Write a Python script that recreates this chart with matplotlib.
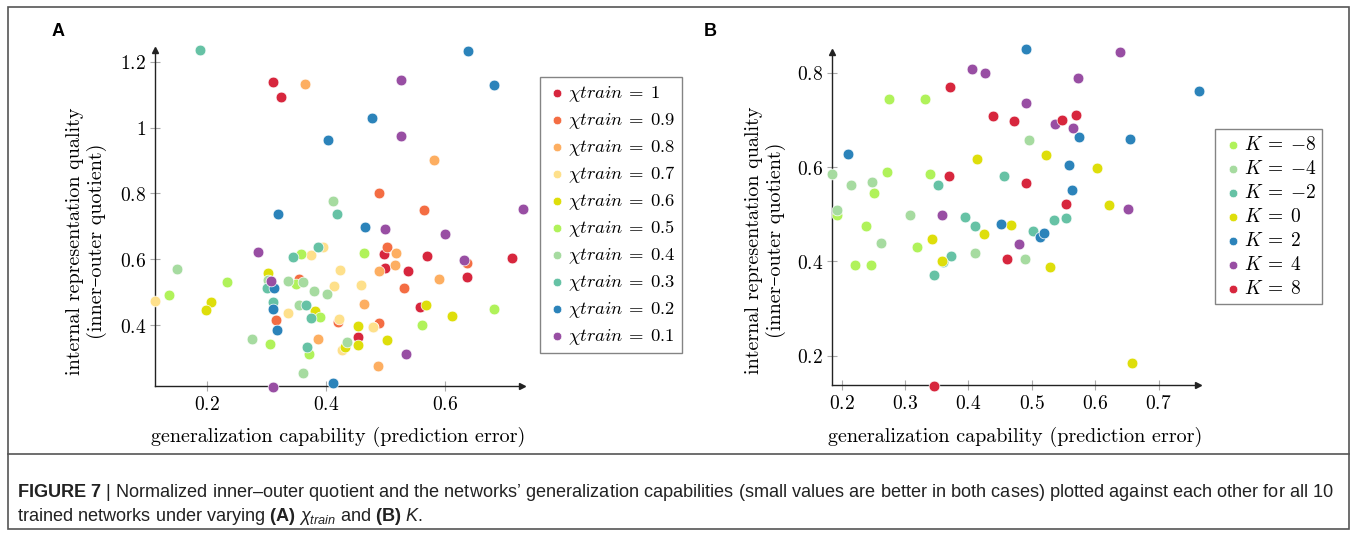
import numpy as np
import matplotlib
matplotlib.use('Agg')
import matplotlib.pyplot as plt
from matplotlib.ticker import FuncFormatter
from matplotlib.patches import Rectangle
from matplotlib.lines import Line2D
from matplotlib import font_manager

plt.rcParams['mathtext.fontset'] = 'cm'
plt.rcParams['axes.unicode_minus'] = True

# ---- panel A: chi_train ----
chi_labels = ['1', '0.9', '0.8', '0.7', '0.6', '0.5', '0.4', '0.3', '0.2', '0.1']
chi_colors = ['#d7263d', '#f46d43', '#fdae61', '#fee08b', '#dede0a',
              '#b0f25a', '#a6dba0', '#66c2a5', '#2b83ba', '#984ea3']
a_x = [
    [0.311, 0.324, 0.454, 0.498, 0.499, 0.570, 0.538, 0.712, 0.637, 0.558],
    [0.489, 0.564, 0.355, 0.315, 0.420, 0.488, 0.503, 0.531, 0.636],
    [0.365, 0.581, 0.386, 0.463, 0.478, 0.487, 0.489, 0.517, 0.516, 0.589],
    [0.112, 0.374, 0.394, 0.413, 0.423, 0.336, 0.422, 0.426, 0.458, 0.478],
    [0.206, 0.198, 0.302, 0.382, 0.431, 0.453, 0.454, 0.502, 0.568, 0.611],
    [0.136, 0.233, 0.358, 0.349, 0.306, 0.389, 0.371, 0.464, 0.682, 0.561],
    [0.149, 0.411, 0.302, 0.336, 0.362, 0.380, 0.401, 0.355, 0.275, 0.361, 0.435],
    [0.188, 0.419, 0.344, 0.387, 0.300, 0.310, 0.366, 0.375, 0.368],
    [0.477, 0.404, 0.319, 0.465, 0.639, 0.682, 0.312, 0.311, 0.318, 0.411],
    [0.526, 0.526, 0.499, 0.730, 0.285, 0.308, 0.311, 0.599, 0.631, 0.534],
]
a_y = [
    [1.139, 1.094, 0.365, 0.616, 0.573, 0.610, 0.563, 0.603, 0.547, 0.454],
    [0.800, 0.749, 0.540, 0.416, 0.410, 0.407, 0.638, 0.513, 0.589],
    [1.132, 0.902, 0.358, 0.463, 0.395, 0.276, 0.565, 0.620, 0.582, 0.541],
    [0.473, 0.613, 0.638, 0.519, 0.568, 0.436, 0.420, 0.324, 0.523, 0.395],
    [0.469, 0.446, 0.559, 0.443, 0.332, 0.398, 0.341, 0.354, 0.462, 0.429],
    [0.491, 0.532, 0.616, 0.525, 0.342, 0.425, 0.312, 0.619, 0.448, 0.400],
    [0.571, 0.776, 0.537, 0.534, 0.530, 0.505, 0.495, 0.460, 0.358, 0.254, 0.350],
    [1.236, 0.739, 0.606, 0.637, 0.513, 0.471, 0.460, 0.422, 0.333],
    [1.029, 0.964, 0.737, 0.699, 1.233, 1.131, 0.513, 0.449, 0.385, 0.225],
    [1.144, 0.975, 0.691, 0.754, 0.622, 0.534, 0.213, 0.677, 0.598, 0.312],
]

# ---- panel B: K ----
k_labels = ['-8', '-4', '-2', '0', '2', '4', '8']
k_colors = ['#b0f25a', '#a6dba0', '#66c2a5', '#dede0a', '#2b83ba', '#984ea3', '#d7263d']
b_x = [
    [0.275, 0.332, 0.272, 0.251, 0.339, 0.192, 0.238, 0.221, 0.247, 0.319],
    [0.185, 0.215, 0.248, 0.192, 0.308, 0.262, 0.495, 0.411, 0.489],
    [0.352, 0.360, 0.372, 0.345, 0.456, 0.394, 0.411, 0.502, 0.535, 0.554],
    [0.342, 0.358, 0.414, 0.522, 0.602, 0.621, 0.467, 0.425, 0.529, 0.658],
    [0.210, 0.490, 0.764, 0.575, 0.655, 0.558, 0.564, 0.452, 0.512, 0.519],
    [0.358, 0.639, 0.405, 0.426, 0.572, 0.491, 0.536, 0.565, 0.651, 0.480],
    [0.371, 0.369, 0.346, 0.439, 0.472, 0.547, 0.570, 0.490, 0.554, 0.460],
]
b_y = [
    [0.744, 0.745, 0.590, 0.544, 0.585, 0.498, 0.474, 0.392, 0.392, 0.431],
    [0.585, 0.561, 0.568, 0.508, 0.498, 0.440, 0.658, 0.418, 0.404],
    [0.562, 0.398, 0.412, 0.371, 0.580, 0.495, 0.474, 0.465, 0.488, 0.493],
    [0.447, 0.401, 0.616, 0.625, 0.599, 0.520, 0.477, 0.457, 0.388, 0.185],
    [0.628, 0.850, 0.761, 0.664, 0.659, 0.604, 0.551, 0.479, 0.451, 0.461],
    [0.498, 0.843, 0.808, 0.800, 0.789, 0.735, 0.692, 0.683, 0.511, 0.437],
    [0.769, 0.580, 0.136, 0.708, 0.698, 0.700, 0.710, 0.566, 0.522, 0.404],
]

W, H = 1357, 536
fig = plt.figure(figsize=(W / 100, H / 100), dpi=100)

def px_axes(x0, y0, x1, y1):
    # left, top, right, bottom in pixels
    return fig.add_axes([x0 / W, 1 - y1 / H, (x1 - x0) / W, (y1 - y0) / H])

label_font = {'family': ['cmr10', 'DejaVu Serif'], 'size': 14.5}

def style_axis(ax, xticks, yticks):
    for s in ['top', 'right']:
        ax.spines[s].set_visible(False)
    for s in ['left', 'bottom']:
        ax.spines[s].set_linewidth(1.0)
        ax.spines[s].set_color('#222222')
    ax.set_xticks(xticks)
    ax.set_yticks(yticks)
    fmt = FuncFormatter(lambda v, p: '$%g$' % round(v, 3))
    ax.xaxis.set_major_formatter(fmt)
    ax.yaxis.set_major_formatter(fmt)
    ax.tick_params(direction='inout', length=7, width=0.8, color='#aaaaaa',
                   labelsize=14, pad=3)
    ax.plot(1, 0, '>', color='#222222', ms=5, transform=ax.transAxes, clip_on=False)
    ax.plot(0, 1, '^', color='#222222', ms=5, transform=ax.transAxes, clip_on=False)
    ax.set_xlabel('generalization capability (prediction error)', fontdict=label_font)
    ax.set_ylabel('internal representation quality\n(inner–outer quotient)',
                  fontdict=label_font, linespacing=1.2)

# panel A
axA = px_axes(155, 50, 522, 386)
for lab, col, xs, ys in zip(chi_labels, chi_colors, a_x, a_y):
    axA.scatter(xs, ys, s=60, color=col, edgecolors='white', linewidths=0.5,
                label=r'$\chi train\:=\:%s$' % lab, clip_on=False, zorder=3)
axA.set_xlim(0.1126, 0.729)
axA.set_ylim(0.215, 1.236)
style_axis(axA, [0.2, 0.4, 0.6], [0.4, 0.6, 0.8, 1.0, 1.2])
axA.xaxis.set_label_coords(0.5, -0.122)
axA.yaxis.set_label_coords(-0.13, 0.43)
legA = axA.legend(loc='upper left', bbox_to_anchor=(540 / W, 1 - 77 / H),
                  bbox_transform=fig.transFigure, fontsize=13.4, frameon=True,
                  fancybox=False, edgecolor='#666666', handletextpad=0.0,
                  labelspacing=0.32, borderpad=0.33, handlelength=1.2,
                  borderaxespad=0, markerscale=0.8)
legA.get_frame().set_linewidth(1.0)

# panel B
axB = px_axes(832, 51.7, 1198, 385)
for lab, col, xs, ys in zip(k_labels, k_colors, b_x, b_y):
    axB.scatter(xs, ys, s=60, color=col, edgecolors='white', linewidths=0.5,
                label=r'$K\:=\:{%s}$' % lab, clip_on=False, zorder=3)
axB.set_xlim(0.1847, 0.762)
axB.set_ylim(0.1379, 0.8445)
style_axis(axB, [0.2, 0.3, 0.4, 0.5, 0.6, 0.7], [0.2, 0.4, 0.6, 0.8])
axB.xaxis.set_label_coords(0.5, -0.125)
axB.yaxis.set_label_coords(-0.125, 0.435)
legB = axB.legend(loc='upper left', bbox_to_anchor=(1215 / W, 1 - 129 / H),
                  bbox_transform=fig.transFigure, fontsize=14, frameon=True,
                  fancybox=False, edgecolor='#666666', handletextpad=0.0,
                  labelspacing=0.26, borderpad=0.3, handlelength=1.2,
                  borderaxespad=0, markerscale=0.8)
legB.get_frame().set_linewidth(1.0)

# panel letters
fig.text(52 / W, 1 - 32 / H, 'A', fontsize=13, fontweight='bold',
         family='Liberation Sans', va='center')
fig.text(704 / W, 1 - 32 / H, 'B', fontsize=13, fontweight='bold',
         family='Liberation Sans', va='center')

# frame and caption
fig.add_artist(Rectangle((7.5 / W, 1 - 529 / H), (1349 - 7.5) / W, (529 - 6.5) / H,
                         transform=fig.transFigure, fill=False,
                         edgecolor='#555555', linewidth=1.2))
fig.add_artist(Line2D([7.5 / W, 1349 / W], [1 - 454 / H, 1 - 454 / H],
                      transform=fig.transFigure, color='#555555', linewidth=1.2))

names = {f.name for f in font_manager.fontManager.ttflist}
cap_family = 'Liberation Sans Narrow' if 'Liberation Sans Narrow' in names else 'Liberation Sans'
plt.rcParams['mathtext.rm'] = cap_family
plt.rcParams['mathtext.it'] = cap_family + ':italic'
plt.rcParams['mathtext.bf'] = cap_family + ':bold'
cap_size = 15.8 if 'Narrow' in cap_family else 13.1
line1 = (r'$\mathbf{FIGURE\ 7}$ | Normalized inner–outer quotient and the networks’ '
         r'generalization capabilities (small values are better in both cases) '
         r'plotted against each other for all 10')
line2 = (r'trained networks under varying $\mathbf{(A)}$ $\mathit{\chi_{train}}$ '
         r'and $\mathbf{(B)}$ $\mathit{K}$.')
fig.text(17 / W, 1 - 497 / H, line1, fontsize=cap_size, family=cap_family,
         math_fontfamily='custom', va='baseline', color='#222222')
fig.text(17 / W, 1 - 521 / H, line2, fontsize=cap_size, family=cap_family,
         math_fontfamily='custom', va='baseline', color='#222222')

fig.savefig('out.png', dpi=100)
